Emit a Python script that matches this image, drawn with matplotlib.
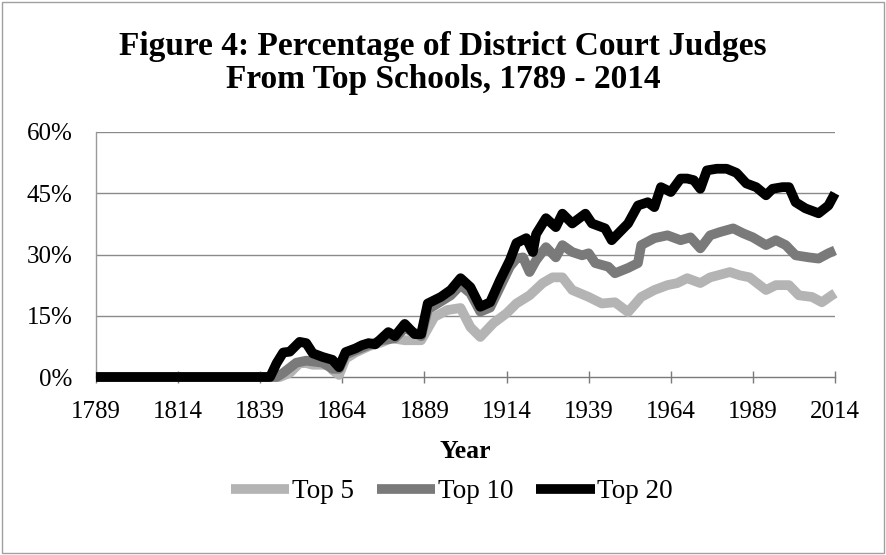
import matplotlib
matplotlib.use("Agg")
import matplotlib.pyplot as plt
from matplotlib.patches import Rectangle

plt.rcParams['font.family'] = ['Liberation Serif', 'DejaVu Serif']

# readings taken off the published figure (percent)
top20_years = [1789, 1842, 1844, 1846, 1848, 1851, 1853, 1855, 1858, 1861, 1863,
               1865, 1868, 1870, 1872, 1874, 1876, 1878, 1880, 1883, 1886, 1888,
               1890, 1894, 1897, 1900, 1903, 1906, 1909, 1912, 1915, 1917, 1920,
               1922, 1923, 1926, 1929, 1931, 1934, 1938, 1940, 1944, 1946, 1951,
               1954, 1957, 1959, 1961, 1964, 1967, 1969, 1971, 1973, 1975, 1978,
               1981, 1984, 1987, 1990, 1993, 1995, 1998, 2000, 2002, 2005, 2009,
               2012, 2014]
top20_vals = [0, 0, 3.4, 6.0, 6.2, 8.6, 8.3, 5.8, 4.9, 4.2, 2.4,
              6.1, 7.0, 7.8, 8.3, 8.0, 9.5, 11.0, 10.0, 13.0, 10.5, 10.5,
              18.0, 19.6, 21.3, 24.2, 22.0, 17.2, 18.3, 23.7, 28.6, 32.8, 34.0,
              30.6, 35.0, 38.9, 36.7, 40.0, 37.6, 40.0, 37.6, 36.4, 33.5, 37.6,
              42.0, 42.8, 41.6, 46.5, 45.3, 48.6, 48.6, 48.2, 46.1, 50.6, 51.0,
              51.0, 50.0, 47.4, 46.5, 44.5, 46.1, 46.5, 46.5, 42.8, 41.3, 40.1,
              42.0, 45.0]

top10_years = [1789, 1844, 1846, 1850, 1853, 1858, 1861, 1863, 1865, 1868, 1872,
               1876, 1880, 1883, 1888, 1890, 1894, 1897, 1900, 1903, 1906, 1909,
               1912, 1915, 1917, 1919, 1921, 1923, 1926, 1929, 1931, 1934, 1937,
               1939, 1941, 1945, 1947, 1951, 1954, 1955, 1959, 1963, 1967, 1970,
               1973, 1976, 1979, 1983, 1986, 1989, 1993, 1996, 1999, 2002, 2006,
               2009, 2012, 2014]
top10_vals = [0, 0, 1.0, 3.5, 4.0, 3.5, 2.0, 2.0, 5.5, 6.5, 7.8,
              9.0, 9.5, 12.0, 10.0, 16.5, 18.5, 20.0, 22.5, 20.5, 16.0, 17.0,
              22.0, 27.0, 29.0, 29.3, 25.7, 28.6, 31.8, 29.3, 32.3, 30.6, 29.8,
              30.3, 27.9, 27.0, 25.4, 26.7, 27.9, 32.3, 34.0, 34.7, 33.5, 34.2,
              31.5, 34.7, 35.5, 36.4, 35.2, 34.2, 32.3, 33.5, 32.3, 29.8, 29.3,
              29.0, 30.3, 31.0]

top5_years = [1789, 1845, 1848, 1851, 1853, 1855, 1860, 1861, 1863, 1865, 1868,
              1872, 1876, 1879, 1883, 1888, 1892, 1896, 1900, 1903, 1906, 1910,
              1914, 1917, 1921, 1925, 1928, 1931, 1934, 1939, 1943, 1947, 1951,
              1955, 1959, 1963, 1966, 1969, 1973, 1976, 1982, 1985, 1988, 1993,
              1996, 2000, 2003, 2007, 2010, 2013, 2014]
top5_vals = [0, 0, 1.0, 3.4, 3.4, 3.0, 3.0, 1.7, 0.5, 4.5, 6.0,
             7.5, 8.5, 9.5, 9.0, 9.0, 14.7, 16.4, 16.9, 12.2, 9.8, 13.2,
             15.6, 18.0, 20.0, 23.0, 24.4, 24.4, 21.3, 19.6, 18.0, 18.3, 15.9,
             19.6, 21.3, 22.5, 23.0, 24.2, 23.0, 24.4, 25.7, 24.9, 24.4, 21.3,
             22.5, 22.5, 20.0, 19.6, 18.3, 20.0, 20.5]

x_ticks = [1789, 1814, 1839, 1864, 1889, 1914, 1939, 1964, 1989, 2014]
y_ticks = [0, 15, 30, 45, 60]

fig = plt.figure(figsize=(8.86, 5.55), dpi=100)
ax = fig.add_axes([96 / 886, 1 - 377 / 555, (835 - 96) / 886, (377 - 132) / 555])

lw = 7
style = dict(lw=lw, solid_joinstyle='round', solid_capstyle='butt', clip_on=False)
l5, = ax.plot(top5_years, top5_vals, color='#b4b4b4', zorder=3, label='Top 5', **style)
l10, = ax.plot(top10_years, top10_vals, color='#7a7a7a', zorder=4, label='Top 10', **style)
l20, = ax.plot(top20_years, top20_vals, color='black', zorder=5, label='Top 20', **style)

ax.set_xlim(1789, 2014)
ax.set_ylim(0, 60)
ax.set_xticks(x_ticks)
ax.set_xticklabels([str(t) for t in x_ticks])
ax.set_yticks(y_ticks)
ax.set_yticklabels(['%d%%' % t for t in y_ticks])

for y in y_ticks[1:]:
    ax.axhline(y, color='#8a8a8a', lw=1.0, zorder=1)

for s in ['top', 'right']:
    ax.spines[s].set_visible(False)
ax.spines['left'].set_color('#9a9a9a')
ax.spines['bottom'].set_color('#7a7a7a')
ax.spines['left'].set_linewidth(1.0)
ax.spines['bottom'].set_linewidth(1.0)

ax.tick_params(axis='x', direction='inout', length=9, width=1, color='#7a7a7a',
               labelsize=18, pad=13)
ax.tick_params(axis='y', length=0, labelsize=18, pad=17)

ax.set_xlabel('Year', fontsize=18.5, fontweight='bold', labelpad=12)

fig.text(0.5, 1 - 63 / 555, 'Figure 4: Percentage of District Court Judges\nFrom Top Schools, 1789 - 2014',
         ha='center', va='center', fontsize=24, fontweight='bold', linespacing=1.12)

fig.legend(handles=[l5, l10, l20], loc='center', bbox_to_anchor=(452 / 886, 1 - 492 / 555),
           ncol=3, frameon=False, fontsize=19.5, handlelength=2.15, handletextpad=0.1,
           columnspacing=0.85)

fig.patches.append(Rectangle((2 / 886, 2 / 555), 882 / 886, 551 / 555, transform=fig.transFigure,
                             fill=False, edgecolor='#a0a0a0', lw=1.0))

fig.savefig('out.png', dpi=100)
